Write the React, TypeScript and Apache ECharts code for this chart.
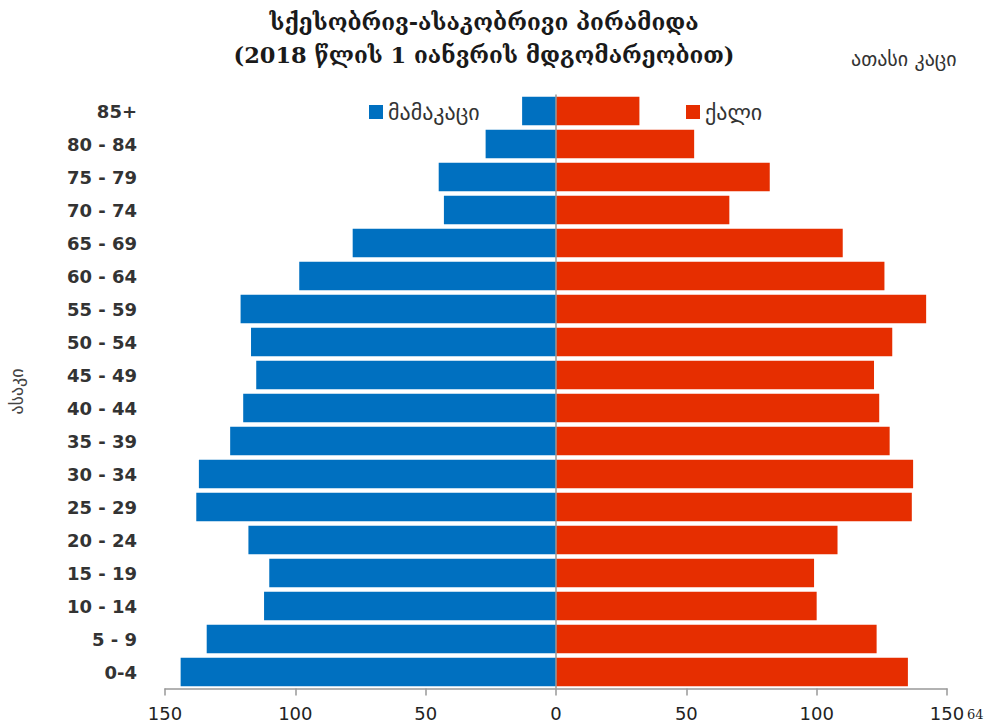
import React, { useEffect, useRef } from "react";
import * as echarts from "echarts";

const ageGroups = ["0-4", "5 - 9", "10 - 14", "15 - 19", "20 - 24", "25 - 29", "30 - 34", "35 - 39", "40 - 44", "45 - 49", "50 - 54", "55 - 59", "60 - 64", "65 - 69", "70 - 74", "75 - 79", "80 - 84", "85+"];
const maleValues = [144, 134, 112, 110, 118, 138, 137, 125, 120, 115, 117, 121, 98.5, 78, 43, 45, 27, 13];
const femaleValues = [135, 123, 100, 99, 108, 136.5, 137, 128, 124, 122, 129, 142, 126, 110, 66.5, 82, 53, 32];

const maleName = "მამაკაცი";
const femaleName = "ქალი";

export default function App() {
  const ref = useRef<HTMLDivElement>(null);
  useEffect(() => {
    const chart = echarts.init(ref.current!, null, { renderer: "svg" });
    const labelFont = "DejaVu Sans";
    chart.setOption({
      animation: false,
      backgroundColor: "#ffffff",
      title: [
        {
          text: "სქესობრივ-ასაკობრივი პირამიდა\n(2018 წლის 1 იანვრის მდგომარეობით)",
          left: 479,
          top: 0,
          textAlign: "center",
          textStyle: { fontFamily: "DejaVu Serif", fontWeight: "bold", fontSize: 22.5, color: "#1a1a1a", lineHeight: 33 },
        },
        {
          text: "ათასი კაცი",
          left: 846,
          top: 44,
          textStyle: { fontFamily: labelFont, fontWeight: "normal", fontSize: 20, color: "#333" },
        },
        {
          text: "64",
          left: 962,
          top: 703,
          textStyle: { fontFamily: "DejaVu Serif", fontWeight: "normal", fontSize: 13, color: "#222" },
        },
      ],
      legend: [
        {
          data: [maleName],
          left: 364,
          top: 96,
          itemWidth: 14,
          itemHeight: 14,
          itemGap: 6,
          icon: "rect",
          textStyle: { fontFamily: labelFont, fontSize: 22, color: "#333" },
        },
        {
          data: [femaleName],
          left: 681,
          top: 96,
          itemWidth: 14,
          itemHeight: 14,
          icon: "rect",
          textStyle: { fontFamily: labelFont, fontSize: 22, color: "#333" },
        },
      ],
      grid: { left: 165, right: 55, top: 94.5, bottom: 38.5, containLabel: false, outerBoundsMode: "none" },
      xAxis: {
        type: "value",
        min: -150,
        max: 150,
        interval: 50,
        splitLine: { show: false },
        axisLine: { show: true, lineStyle: { color: "#999", width: 1.5 } },
        axisTick: { show: true, length: 7, lineStyle: { color: "#999", width: 1.5 } },
        axisLabel: {
          formatter: (v: number) => String(Math.abs(v)),
          fontFamily: labelFont,
          fontSize: 18,
          color: "#222",
          margin: 16,
        },
      },
      yAxis: {
        type: "category",
        data: ageGroups,
        name: "ასაკი",
        nameLocation: "middle",
        nameRotate: 90,
        nameGap: 140,
        nameTextStyle: { fontFamily: labelFont, fontSize: 18, color: "#444" },
        axisLine: { show: false },
        axisTick: { show: false },
        axisLabel: {
          fontFamily: labelFont,
          fontSize: 18,
          fontWeight: "bold",
          color: "#333",
          margin: 28,
        },
      },
      series: [
        {
          name: maleName,
          type: "bar",
          data: maleValues.map((v) => -v),
          barCategoryGap: "14%",
          barGap: "-100%",
          itemStyle: { color: "#0070C0" },
        },
        {
          name: femaleName,
          type: "bar",
          data: femaleValues,
          barCategoryGap: "14%",
          barGap: "-100%",
          itemStyle: { color: "#E62E00" },
          markLine: {
            silent: true,
            symbol: "none",
            label: { show: false },
            lineStyle: { color: "#999", width: 1.5, type: "solid" },
            data: [{ xAxis: 0 }],
          },
        },
      ],
    });
    return () => chart.dispose();
  }, []);
  return <div ref={ref} style={{ width: 1002, height: 727, position: "absolute", left: 0, top: 0 }} />;
}
